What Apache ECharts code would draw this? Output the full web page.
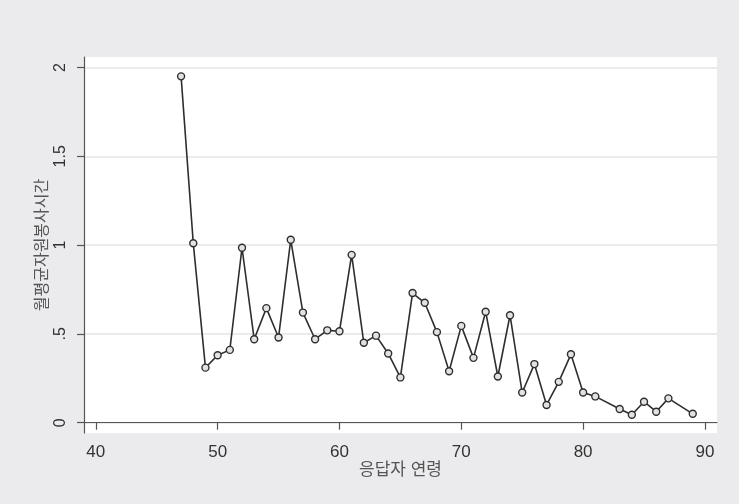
<!DOCTYPE html>
<html>
<head>
<meta charset="utf-8">
<script src="https://cdn.jsdelivr.net/npm/echarts@6/dist/echarts.min.js"></script>
<style>
html,body{margin:0;padding:0;background:#EBEBED;}
#c{width:739px;height:504px;}
</style>
</head>
<body>
<div id="c"></div>
<script>
const ages = [47,48,49,50,51,52,53,54,55,56,57,58,59,60,61,62,63,64,65,66,67,68,69,70,71,72,73,74,75,76,77,78,79,80,81,83,84,85,86,87,89];
const hours = [1.95,1.01,0.31,0.38,0.41,0.985,0.47,0.645,0.48,1.03,0.62,0.47,0.52,0.515,0.945,0.45,0.49,0.39,0.255,0.73,0.675,0.51,0.29,0.545,0.365,0.625,0.26,0.605,0.17,0.33,0.10,0.23,0.385,0.17,0.148,0.077,0.045,0.118,0.062,0.137,0.05];
const xTicks = [40,50,60,70,80,90];
const yTicks = [0,0.5,1,1.5,2];
const xTitle = '응답자 연령';
const yTitle = '월평균자원봉사시간';

const font = '"Liberation Sans", Arial, "Noto Sans CJK KR", sans-serif';
const chart = echarts.init(document.getElementById('c'));
chart.setOption({
  backgroundColor: '#EBEBED',
  animation: false,
  grid: {left: 84, right: 22, top: 57, bottom: 71, show: true, backgroundColor: '#ffffff', borderWidth: 0},
  xAxis: {
    type: 'value', min: 39.03, max: 90.99,
    name: xTitle, nameLocation: 'middle', nameGap: 29, nameMoveOverlap: false,
    nameTextStyle: {color: '#555', fontSize: 17, fontFamily: font},
    axisLine: {show: true, lineStyle: {color: '#555', width: 1.2}},
    axisTick: {show: true, length: 7, lineStyle: {color: '#555', width: 1.2}, customValues: xTicks},
    axisLabel: {color: '#333', fontSize: 17, fontFamily: font, margin: 11, customValues: xTicks,
      formatter: v => String(v)},
    splitLine: {show: false}
  },
  yAxis: {
    type: 'value', min: -0.058, max: 2.059,
    name: yTitle, nameLocation: 'middle', nameGap: 33, nameRotate: 90, nameMoveOverlap: false,
    nameTextStyle: {color: '#555', fontSize: 16, fontFamily: font},
    axisLine: {show: true, lineStyle: {color: '#555', width: 1.2}},
    axisTick: {show: true, length: 7, lineStyle: {color: '#555', width: 1.2}, customValues: yTicks},
    axisLabel: {color: '#333', fontSize: 16, fontFamily: font, margin: 15, rotate: 90, customValues: yTicks,
      formatter: v => (v === 0.5 ? '.5' : String(v))},
    splitLine: {show: true, lineStyle: {color: '#E4E4E4', width: 1.6}}
  },
  series: [{
    type: 'line',
    data: ages.map((a, i) => [a, hours[i]]),
    symbol: 'circle', symbolSize: 7,
    lineStyle: {color: '#2E2E2E', width: 1.6},
    itemStyle: {color: '#E2E2E2', borderColor: '#2E2E2E', borderWidth: 1.4}
  }]
});
</script>
</body>
</html>
